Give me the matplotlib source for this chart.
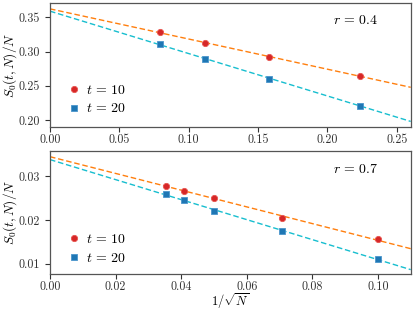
import numpy as np
import matplotlib
matplotlib.use("Agg")
import matplotlib.pyplot as plt

plt.rcParams['font.family'] = 'serif'
plt.rcParams['font.serif'] = ['cmr10', 'DejaVu Serif']
plt.rcParams['mathtext.fontset'] = 'cm'
plt.rcParams['axes.formatter.use_mathtext'] = True
plt.rcParams['axes.unicode_minus'] = False

# Top panel (r = 0.4)
N_top = np.array([160, 80, 40, 20])
top_t10 = [0.3281, 0.3130, 0.2921, 0.2644]
top_t20 = [0.3106, 0.2897, 0.2605, 0.2211]

# Bottom panel (r = 0.7)
N_bot = np.array([800, 600, 400, 200, 100])
bot_t10 = [0.0278, 0.0267, 0.0249, 0.0205, 0.0156]
bot_t20 = [0.0259, 0.0245, 0.0221, 0.0175, 0.0111]

panels = [
    dict(N=N_top, y10=top_t10, y20=top_t20, label=r"$r\,=\,0.4$",
         xlim=(0, 0.26), ylim=(0.19, 0.371),
         xticks=[0, 0.05, 0.10, 0.15, 0.20, 0.25], xfmt="%.2f",
         yticks=[0.20, 0.25, 0.30, 0.35], yfmt="%.2f",
         leg_y=0.22, lab_y=0.855),
    dict(N=N_bot, y10=bot_t10, y20=bot_t20, label=r"$r\,=\,0.7$",
         xlim=(0, 0.11), ylim=(0.0077, 0.0357),
         xticks=[0, 0.02, 0.04, 0.06, 0.08, 0.10], xfmt="%.2f",
         yticks=[0.01, 0.02, 0.03], yfmt="%.2f",
         leg_y=0.205, lab_y=0.851),
]

fig = plt.figure(figsize=(4.15, 3.12), dpi=100)
W, H = 415, 312
boxes = [(50, 3, 410.7, 127), (50, 151, 410.7, 274)]

for p, (x0, y0, x1, y1) in zip(panels, boxes):
    ax = fig.add_axes([x0 / W, 1 - y1 / H, (x1 - x0) / W, (y1 - y0) / H])
    x = 1 / np.sqrt(p['N'])
    xx = np.linspace(p['xlim'][0], p['xlim'][1], 200)
    c10 = np.polyfit(x, p['y10'], 1)
    c20 = np.polyfit(x, p['y20'], 1)
    ax.plot(xx, np.polyval(c10, xx), '--', color='#ff7f0e', lw=1.0, dashes=(4, 2))
    ax.plot(xx, np.polyval(c20, xx), '--', color='#17becf', lw=1.0, dashes=(4, 2))
    ax.plot(x, p['y10'], 'o', color='#d62728', ms=4.5, mec='#e8554f', mew=0.6, label=r"$t\,=\,10$")
    ax.plot(x, p['y20'], 's', color='#1f77b4', ms=4.5, mec='#4a95cc', mew=0.6, label=r"$t\,=\,20$")
    ax.set_xlim(p['xlim'])
    ax.set_ylim(p['ylim'])
    ax.set_xticks(p['xticks'])
    ax.set_xticklabels([p['xfmt'] % v for v in p['xticks']])
    ax.set_yticks(p['yticks'])
    ax.set_yticklabels([p['yfmt'] % v for v in p['yticks']])
    ax.tick_params(labelsize=8.7, length=3.5, width=0.8, colors='#333333', labelcolor='#333333')
    ax.tick_params(axis='y', pad=4.0)
    ax.tick_params(axis='x', pad=1.5)
    for s in ax.spines.values():
        s.set_color('#555555')
        s.set_linewidth(0.9)
    ax.set_ylabel("$S_0(t,N)/N$", fontsize=9.5, va='center')
    ax.yaxis.set_label_coords((10.0 - x0) / (x1 - x0), 0.5)
    ax.text(0.848, p['lab_y'], p['label'], transform=ax.transAxes, fontsize=10,
            ha='center', va='center')
    ax.legend(loc='center left', frameon=False, fontsize=10, handletextpad=0.37,
              handlelength=1.0, borderaxespad=0.0, borderpad=0.4, labelspacing=0.4,
              bbox_to_anchor=(0.0316, p['leg_y']))
    last = ax

last.set_xlabel(r"$1/\sqrt{N}$", fontsize=9, va='center')
last.xaxis.set_label_coords(0.5, (274 - 301.5) / 123)

fig.savefig("out.png", dpi=100)
